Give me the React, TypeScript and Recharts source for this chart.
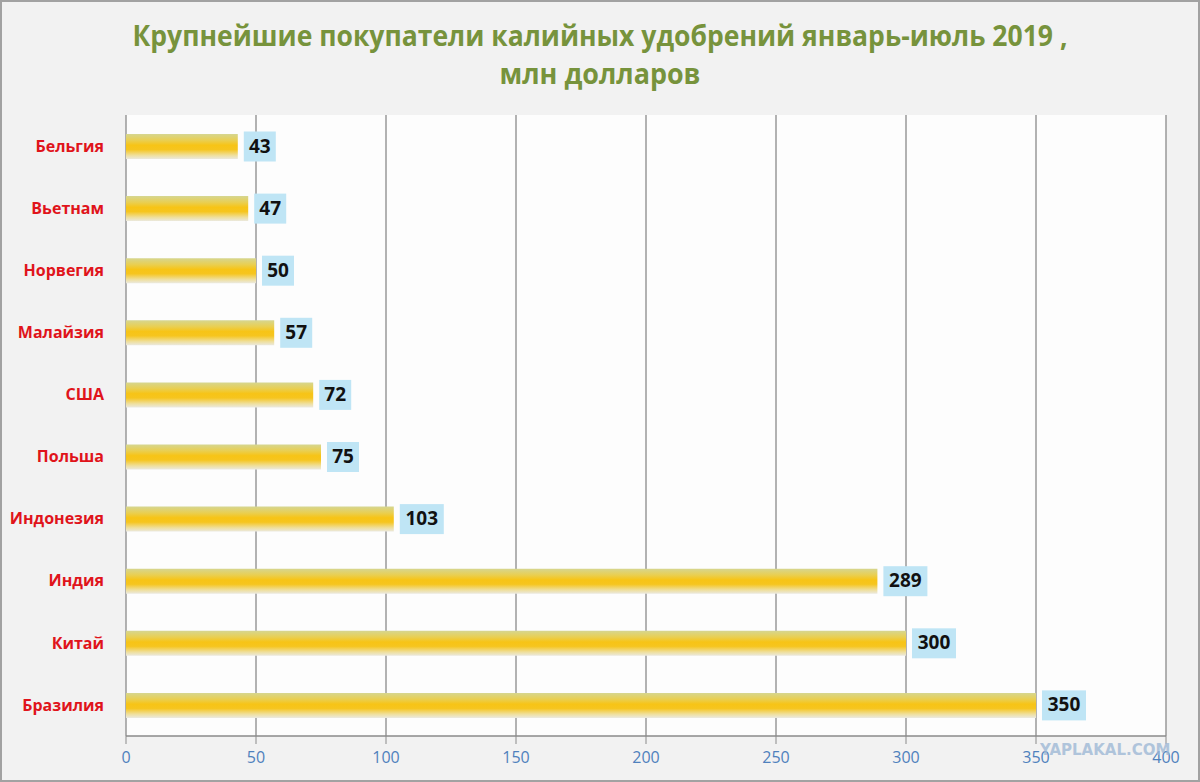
import { BarChart, Bar, XAxis, YAxis, CartesianGrid, LabelList } from "recharts";

const countries = ["Бельгия", "Вьетнам", "Норвегия", "Малайзия", "США", "Польша", "Индонезия", "Индия", "Китай", "Бразилия"];
const values = [43, 47, 50, 57, 72, 75, 103, 289, 300, 350];
const xTicks = [0, 50, 100, 150, 200, 250, 300, 350, 400];
// category boundaries for the Excel-style tick marks on the left axis
const boundaryTicks = [0, 1, 2, 3, 4, 5, 6, 7, 8, 9, 10];

const TITLE_1 = "Крупнейшие покупатели калийных удобрений январь-июль 2019 ,";
const TITLE_2 = "млн долларов";

const data = countries.map((name, i) => ({ name, value: values[i] }));

const GRID = "#8a8a8a";

function ValueLabel(props: any) {
  const { x, y, width, height, value } = props;
  const text = String(value);
  const w = text.length >= 3 ? 44 : 32;
  const bx = x + width + 6;
  const cy = y + height / 2;
  return (
    <g>
      <rect x={bx} y={cy - 15} width={w} height={30} fill="#bfe5f5" />
      <text
        x={bx + w / 2}
        y={cy + 1}
        textAnchor="middle"
        dominantBaseline="middle"
        fontFamily="'Open Sans', sans-serif"
        fontWeight={700}
        fontSize={19}
        fill="#111"
      >
        {text}
      </text>
    </g>
  );
}

export default function App() {
  return (
    <div
      style={{
        position: "absolute",
        left: 0,
        top: 0,
        width: 1200,
        height: 782,
        background: "#f2f2f2",
        boxShadow: "inset 0 0 0 2px #a2a2a2",
        fontFamily: "'Open Sans', sans-serif",
      }}
    >
      <svg width={1200} height={110} style={{ position: "absolute", left: 0, top: 0 }}>
        <text
          x={600}
          y={46}
          textAnchor="middle"
          fontFamily="'Open Sans', sans-serif"
          fontWeight={700}
          fontSize={28}
          fill="#77933c"
          textLength={935}
          lengthAdjust="spacingAndGlyphs"
        >
          {TITLE_1}
        </text>
        <text
          x={600}
          y={84}
          textAnchor="middle"
          fontFamily="'Open Sans', sans-serif"
          fontWeight={700}
          fontSize={28}
          fill="#77933c"
          textLength={201}
          lengthAdjust="spacingAndGlyphs"
        >
          {TITLE_2}
        </text>
      </svg>
      <div style={{ position: "absolute", left: 0, top: 0 }}>
        <BarChart
          width={1200}
          height={782}
          data={data}
          layout="vertical"
          margin={{ top: 115, right: 34, bottom: 12, left: 6 }}
        >
          <defs>
            <linearGradient id="barFill" x1="0" y1="0" x2="0" y2="1">
              <stop offset="0%" stopColor="#d6d690" />
              <stop offset="25%" stopColor="#e9cf52" />
              <stop offset="45%" stopColor="#f7c416" />
              <stop offset="62%" stopColor="#f6c51e" />
              <stop offset="85%" stopColor="#efdf9c" />
              <stop offset="100%" stopColor="#ebe9df" />
            </linearGradient>
          </defs>
          <CartesianGrid horizontal={false} stroke={GRID} fill="#fdfdfd" strokeWidth={1.3} />
          <YAxis
            yAxisId="edge"
            type="number"
            domain={[0, 10]}
            ticks={boundaryTicks}
            width={0}
            tick={false}
            tickSize={6}
            tickLine={{ stroke: GRID }}
            axisLine={{ stroke: GRID, strokeWidth: 1.3 }}
          />
          <YAxis
            yAxisId="cat"
            type="category"
            dataKey="name"
            width={120}
            axisLine={false}
            tickLine={false}
            tickSize={0}
            tickMargin={22}
            tick={{ fill: "#e0141b", fontSize: 16, fontWeight: 700, fontFamily: "'Open Sans', sans-serif" }}
          />
          <XAxis
            type="number"
            domain={[0, 400]}
            ticks={xTicks}
            height={34}
            tickSize={8}
            tickMargin={8}
            tickLine={{ stroke: GRID }}
            axisLine={{ stroke: GRID, strokeWidth: 1.3 }}
            tick={{ fill: "#4f81bd", fontSize: 16, fontFamily: "'Open Sans', sans-serif" }}
          />
          <Bar yAxisId="cat" dataKey="value" barSize={25} fill="url(#barFill)" isAnimationActive={false}>
            <LabelList dataKey="value" content={<ValueLabel />} />
          </Bar>
        </BarChart>
      </div>
      <div
        style={{
          position: "absolute",
          left: 1040,
          top: 741,
          fontFamily: "'DejaVu Sans', sans-serif",
          fontWeight: 700,
          fontSize: 15,
          color: "#9fb9d6",
          opacity: 0.8,
        }}
      >
        YAPLAKAL.COM
      </div>
    </div>
  );
}
